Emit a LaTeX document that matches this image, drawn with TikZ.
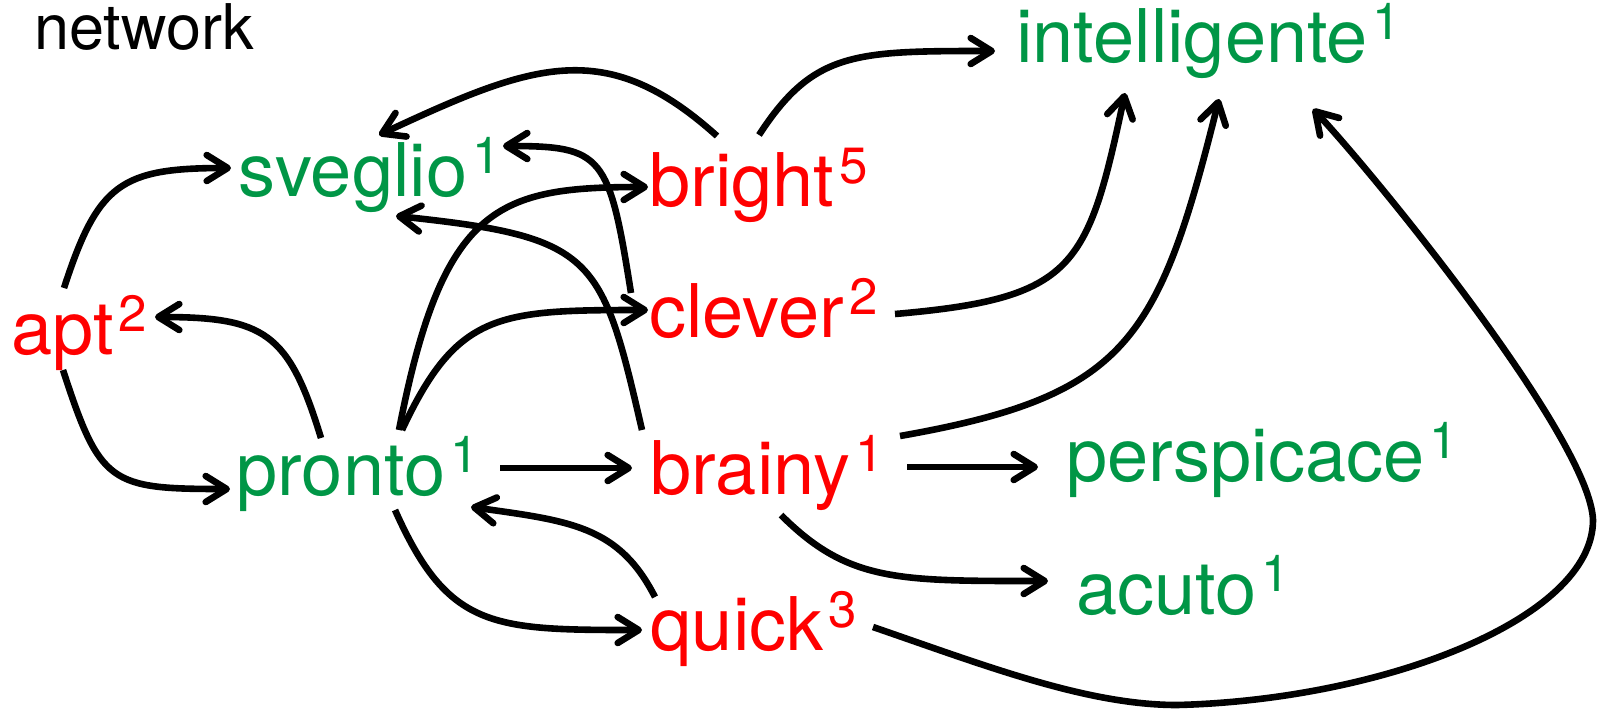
\documentclass[tikz,border=0pt]{standalone}
\usepackage{fontspec}
\setmainfont{TeX Gyre Heros}
\usetikzlibrary{arrows.meta}
\definecolor{wgreen}{RGB}{0,150,70}
\definecolor{wred}{RGB}{255,0,0}
\newcommand\wsup[1]{\kern2.5pt\raisebox{11.5pt}{\fontsize{25.5pt}{25.5pt}\selectfont #1}}
\begin{document}
\begin{tikzpicture}[x=0.5pt,y=0.5pt,
  word/.style={inner sep=0pt, anchor=base west, font=\fontsize{37pt}{40pt}\selectfont},
  gw/.style={word, text=wgreen},
  rw/.style={word, text=wred},
  link/.style={line width=3.3pt, -{Straight Barb[length=10.5pt,width=13pt,line join=round,line cap=round]}}]
\useasboundingbox (0,0) rectangle (1600,-708);
\node[word, font=\fontsize{31.5pt}{34pt}\selectfont] (network) at (34,-49) {network};
\node[gw] (intelligente) at (1016,-62) {intelligente\wsup{1}};
\node[gw] (sveglio) at (238,-196) {sveglio\wsup{1}};
\node[rw] (bright) at (649,-206) {bright\wsup{5}};
\node[rw] (apt) at (11,-354) {apt\wsup{2}};
\node[rw] (clever) at (649,-337) {clever\wsup{2}};
\node[gw] (pronto) at (236,-495) {pronto\wsup{1}};
\node[rw] (brainy) at (650,-494) {brainy\wsup{1}};
\node[gw] (perspicace) at (1066,-481) {perspicace\wsup{1}};
\node[gw] (acuto) at (1076,-614) {acuto\wsup{1}};
\node[rw] (quick) at (650,-650) {quick\wsup{3}};
\coordinate (loopB) at (1177,-705);
\coordinate (loopR) at (1593,-520);
% apt
\draw[link] ([shift={(53,66)}]apt.base west) .. controls +(72:110) and +(180:110) .. ([shift={(-7,28)}]sveglio.base west);
\draw[link] ([shift={(52,-16)}]apt.base west) .. controls +(-72:120) and +(180:120) .. ([shift={(-6,6)}]pronto.base west);
% pronto
\draw[link] ([shift={(85,57)}]pronto.base west) .. controls +(107:110) and +(0:110) .. ([shift={(144,37)}]apt.base west);
\draw[link] ([shift={(163,65)}]pronto.base west) .. controls +(79:230) and +(180:150) .. ([shift={(-1,19)}]bright.base west);
\draw[link] ([shift={(166,65)}]pronto.base west) .. controls +(65:130) and +(180:150) .. ([shift={(-1,27)}]clever.base west);
\draw[link] ([shift={(264,27)}]pronto.base west) -- ([shift={(-18,26)}]brainy.base west);
\draw[link] ([shift={(159,-15)}]pronto.base west) .. controls +(-66:130) and +(180:150) .. ([shift={(-8,20)}]quick.base west);
% quick
\draw[link] ([shift={(5,53)}]quick.base west) .. controls +(117:80) and +(-8:100) .. ([shift={(235,-12)}]pronto.base west);
\draw[link] ([shift={(223,23)}]quick.base west) .. controls +(-19:120) and +(180:90) .. (loopB)
   .. controls +(1.4:203) and +(-90:100) .. (loopR)
   .. controls +(92:80) and +(-47:98) .. ([shift={(297,-47)}]intelligente.base west);
% bright
\draw[link] ([shift={(68,70)}]bright.base west) .. controls +(138:150) and +(25:170) .. ([shift={(141,61)}]sveglio.base west);
\draw[link] ([shift={(110,71)}]bright.base west) .. controls +(57:100) and +(180:140) .. ([shift={(-21,11)}]intelligente.base west);
% clever
\draw[link] ([shift={(-18,44)}]clever.base west) .. controls +(99:140) and +(0:100) .. ([shift={(265,50)}]sveglio.base west);
\draw[link] ([shift={(246,23)}]clever.base west) .. controls +(5:180) and +(-102:180) .. ([shift={(109,-31)}]intelligente.base west);
% brainy
\draw[link] ([shift={(-8,64)}]brainy.base west) .. controls +(103:180) and +(-6:200) .. ([shift={(158,-20)}]sveglio.base west);
\draw[link] ([shift={(250,58)}]brainy.base west) .. controls +(10:230) and +(-104:250) .. ([shift={(203,-37)}]intelligente.base west);
\draw[link] ([shift={(257,27)}]brainy.base west) -- ([shift={(-28,14)}]perspicace.base west);
\draw[link] ([shift={(131,-21)}]brainy.base west) .. controls +(-45:95) and +(180:150) .. ([shift={(-28,33)}]acuto.base west);
\end{tikzpicture}
\end{document}
